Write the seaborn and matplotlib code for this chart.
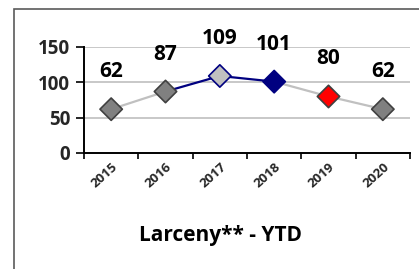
import matplotlib
matplotlib.use("Agg")
import matplotlib.pyplot as plt
import seaborn as sns
import pandas as pd
from matplotlib.patches import Rectangle

years = ["2015", "2016", "2017", "2018", "2019", "2020"]
values = [62, 87, 109, 101, 80, 62]
marker_colors = ["#808080", "#808080", "#c0c0c0", "#000080", "#ff0000", "#808080"]
marker_edges = ["#404040", "#404040", "#000080", "#000080", "#404040", "#404040"]
segment_colors = ["#c0c0c0", "#000080", "#000080", "#c0c0c0", "#c0c0c0"]
title = "Larceny** - YTD"

sns.set_theme(style="white")
FONT = ["Open Sans", "DejaVu Sans"]
plt.rcParams["font.family"] = FONT
plt.rcParams["font.weight"] = "bold"

fig = plt.figure(figsize=(4.19, 2.69), dpi=100)
ax = fig.add_axes([84/419, 1-153/269, (410-84)/419, (153-47)/269])

# outer frame
fig.patches.append(Rectangle((14/419, -0.1), 1.2, 1 - 9/269 + 0.1, transform=fig.transFigure,
                             fill=False, edgecolor="#5a5a5a", linewidth=1.2))

x = list(range(len(years)))
rows = []
for i in range(len(years) - 1):
    rows.append({"x": x[i], "y": values[i], "seg": i})
    rows.append({"x": x[i + 1], "y": values[i + 1], "seg": i})
seg_df = pd.DataFrame(rows)
sns.lineplot(data=seg_df, x="x", y="y", hue="seg", palette=segment_colors,
             legend=False, linewidth=1.6, ax=ax, estimator=None, sort=False, zorder=2)

pt_df = pd.DataFrame({"x": x, "y": values, "year": years})
sns.scatterplot(data=pt_df, x="x", y="y", hue="year", palette=marker_colors,
                edgecolor=marker_edges, linewidth=1.2, marker="D", s=130,
                legend=False, ax=ax, zorder=3)

for xi, v in zip(x, values):
    ax.annotate(str(v), (xi, v), xytext=(0, 27), textcoords="offset points",
                ha="center", va="center", fontsize=15, fontweight="bold",
                family=FONT, color="black", annotation_clip=False)

ax.set_xlim(-0.5, 5.5)
ax.set_ylim(0, 150)
ax.set_yticks([0, 50, 100, 150])
ax.set_yticklabels(["0", "50", "100", "150"], fontsize=13.5, fontweight="bold", family=FONT)
for yv in [50, 100, 150]:
    ax.axhline(yv, color="#c8c8c8", linewidth=1.4, zorder=1)

ax.set_xticks([i - 0.5 for i in range(len(years) + 1)], minor=False)
ax.set_xticklabels([""] * (len(years) + 1))
ax.set_xticks(x, minor=True)
ax.set_xticklabels(years, minor=True, rotation=42, ha="right", va="top",
                   rotation_mode="anchor", fontsize=9.5, fontweight="bold", family=FONT)
ax.tick_params(axis="x", which="minor", length=0, pad=5)
ax.tick_params(axis="x", which="major", length=4, width=1.2, color="black", direction="out")
ax.tick_params(axis="y", length=6, width=1.2, color="black", direction="out", pad=4)
ax.tick_params(left=True, bottom=True)

for s in ["top", "right"]:
    ax.spines[s].set_visible(False)
ax.spines["left"].set_color("black")
ax.spines["left"].set_linewidth(1.4)
ax.spines["bottom"].set_color("black")
ax.spines["bottom"].set_linewidth(1.4)
ax.set_xlabel("")
ax.set_ylabel("")

fig.text(220/419, 1 - 236/269, title, ha="center", va="center",
         fontsize=15, fontweight="bold", family=FONT, color="black")

fig.savefig("out.png", dpi=100)
